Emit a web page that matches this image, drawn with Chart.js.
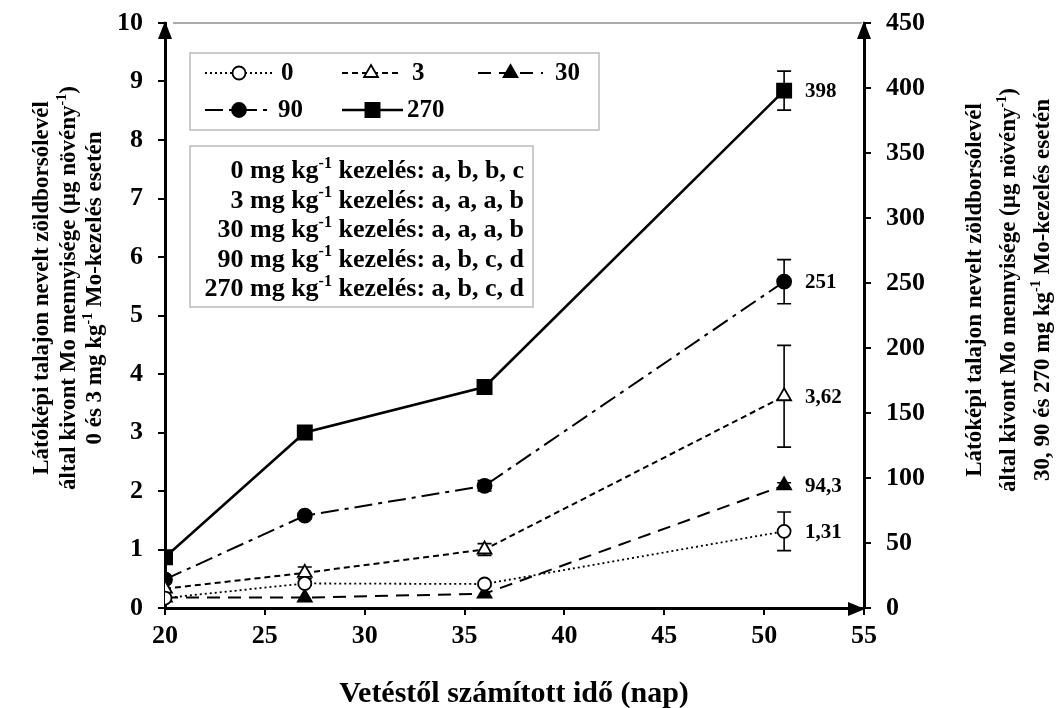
<!DOCTYPE html>
<html>
<head>
<meta charset="utf-8">
<script src="https://cdn.jsdelivr.net/npm/chart.js@4.4.1/dist/chart.umd.min.js"></script>
<style>
  html, body { margin: 0; padding: 0; background: #fff; }
  #wrap { width: 1059px; height: 708px; }
</style>
</head>
<body>
<div id="wrap"><canvas id="moChart" width="1059" height="708"></canvas></div>
<script>
// sampling days after sowing
const days = [20, 27, 36, 51];

// 0 and 3 mg/kg treatments -> left axis
const mo0 = [0.17, 0.42, 0.41, 1.31];
const mo3 = [0.33, 0.6, 1.0, 3.62];
// 30, 90 and 270 mg/kg treatments -> right axis
const mo30 = [8, 8, 11, 94.3];
const mo90 = [22, 71, 94, 251];
const mo270 = [39, 135, 170, 398];

// standard deviations
const err0 = [0, 0.03, 0.03, 0.33];
const err3 = [0, 0.1, 0.1, 0.87];
const err30 = [0, 0, 0, 2];
const err90 = [0, 0, 4, 17];
const err270 = [0, 0, 0, 15];

// value printed next to the last point of each series
const lastLabels = ['1,31', '3,62', '94,3', '251', '398'];

// significance letters per treatment
const treatments = ['0', '3', '30', '90', '270'];
const letters = ['a, b, b, c', 'a, a, a, b', 'a, a, a, b', 'a, b, c, d', 'a, b, c, d'];

const FONT = '"Liberation Serif", "Times New Roman", serif';

const styles = {
  '0':   { dash: [2, 3],        width: 1.8, point: 'circle',   r: 6.5, fill: '#fff' },
  '3':   { dash: [6, 4],        width: 2,   point: 'triangle', r: 8,   fill: '#fff' },
  '30':  { dash: [13, 8],       width: 2,   point: 'triangle', r: 8,   fill: '#000' },
  '90':  { dash: [18, 6, 4, 6], width: 2,   point: 'circle',   r: 7,   fill: '#000' },
  '270': { dash: [],            width: 2.5, point: 'rect',     r: 10,  fill: '#000' }
};

function series(name, values, errors, axis, label) {
  const s = styles[name];
  return {
    label: name,
    data: values.map((v, i) => ({ x: days[i], y: v })),
    errors: errors,
    lastLabel: label,
    yAxisID: axis,
    borderColor: '#000',
    borderWidth: s.width,
    borderDash: s.dash,
    tension: 0,
    pointStyle: s.point,
    pointRadius: s.r,
    pointHoverRadius: s.r,
    pointBackgroundColor: s.fill,
    pointBorderColor: '#000',
    pointBorderWidth: 1.8
  };
}

// draw text that may contain superscript parts: [[text, isSup], ...]
function richWidth(ctx, parts, size) {
  let w = 0;
  parts.forEach(p => {
    ctx.font = 'bold ' + (p[1] ? Math.round(size * 0.6) : size) + 'px ' + FONT;
    w += ctx.measureText(p[0]).width;
  });
  return w;
}
function drawRich(ctx, parts, x, y, align, size) {
  const w = richWidth(ctx, parts, size);
  let cx = align === 'center' ? x - w / 2 : align === 'right' ? x - w : x;
  ctx.textAlign = 'left';
  ctx.textBaseline = 'alphabetic';
  parts.forEach(p => {
    const sz = p[1] ? Math.round(size * 0.6) : size;
    ctx.font = 'bold ' + sz + 'px ' + FONT;
    ctx.fillText(p[0], cx, p[1] ? y - size * 0.4 : y);
    cx += ctx.measureText(p[0]).width;
  });
}

function marker(ctx, style, x, y) {
  const s = styles[style];
  ctx.save();
  ctx.setLineDash([]);
  ctx.lineWidth = 1.8;
  ctx.strokeStyle = '#000';
  ctx.fillStyle = s.fill;
  ctx.beginPath();
  if (s.point === 'circle') {
    ctx.arc(x, y, s.r, 0, Math.PI * 2);
  } else if (s.point === 'triangle') {
    const hw = s.r * Math.sqrt(3) / 2;
    ctx.moveTo(x, y - s.r);
    ctx.lineTo(x + hw, y + s.r / 2);
    ctx.lineTo(x - hw, y + s.r / 2);
    ctx.closePath();
  } else {
    const a = s.r * Math.SQRT1_2;
    ctx.rect(x - a, y - a, 2 * a, 2 * a);
  }
  ctx.fill();
  ctx.stroke();
  ctx.restore();
}

const errorBars = {
  id: 'errorBars',
  beforeDatasetsDraw(chart) {
    const ctx = chart.ctx;
    const xs = chart.scales.x;
    ctx.save();
    ctx.strokeStyle = '#000';
    ctx.lineWidth = 1.6;
    chart.data.datasets.forEach(ds => {
      const ys = chart.scales[ds.yAxisID];
      ds.data.forEach((p, i) => {
        const e = ds.errors[i];
        if (!e) return;
        const px = xs.getPixelForValue(p.x);
        const top = ys.getPixelForValue(p.y + e);
        const bot = ys.getPixelForValue(p.y - e);
        ctx.beginPath();
        ctx.moveTo(px, top); ctx.lineTo(px, bot);
        ctx.moveTo(px - 7, top); ctx.lineTo(px + 7, top);
        ctx.moveTo(px - 7, bot); ctx.lineTo(px + 7, bot);
        ctx.stroke();
      });
    });
    ctx.restore();
  },
  afterDatasetsDraw(chart) {
    const ctx = chart.ctx;
    const xs = chart.scales.x;
    ctx.save();
    ctx.fillStyle = '#000';
    ctx.font = 'bold 21px ' + FONT;
    ctx.textAlign = 'left';
    ctx.textBaseline = 'middle';
    chart.data.datasets.forEach(ds => {
      const last = ds.data[ds.data.length - 1];
      const ys = chart.scales[ds.yAxisID];
      ctx.fillText(ds.lastLabel, xs.getPixelForValue(last.x) + 21, ys.getPixelForValue(last.y) + 1);
    });
    ctx.restore();
  }
};

const decorations = {
  id: 'decorations',
  afterDraw(chart) {
    const ctx = chart.ctx;
    const a = chart.chartArea;
    ctx.save();

    // grey top frame line
    ctx.strokeStyle = '#aaa';
    ctx.lineWidth = 2;
    ctx.beginPath();
    ctx.moveTo(a.left + 8, a.top);
    ctx.lineTo(a.right - 2, a.top);
    ctx.stroke();

    // axis arrows
    ctx.fillStyle = '#000';
    [a.left, a.right].forEach(x => {
      ctx.beginPath();
      ctx.moveTo(x, a.top - 2);
      ctx.lineTo(x - 7, a.top + 16);
      ctx.lineTo(x + 7, a.top + 16);
      ctx.closePath();
      ctx.fill();
    });
    ctx.beginPath();
    ctx.moveTo(a.right + 1, a.bottom + 1);
    ctx.lineTo(a.right - 16, a.bottom - 6);
    ctx.lineTo(a.right - 16, a.bottom + 8);
    ctx.closePath();
    ctx.fill();

    // axis titles
    const leftTitle = [
      [['Látóképi talajon nevelt zöldborsólevél', false]],
      [['által kivont Mo mennyisége (µg növény', false], ['-1', true], [')', false]],
      [['0 és 3 mg kg', false], ['-1', true], [' Mo-kezelés esetén', false]]
    ];
    const rightTitle = [
      [['Látóképi talajon nevelt zöldborsólevél', false]],
      [['által kivont Mo mennyisége (µg növény', false], ['-1', true], [')', false]],
      [['30, 90 és 270 mg kg', false], ['-1', true], [' Mo-kezelés esetén', false]]
    ];
    const leftX = [48, 75, 101];
    const rightX = [981, 1015, 1049];
    leftTitle.forEach((line, i) => {
      ctx.save();
      ctx.translate(leftX[i], 288);
      ctx.rotate(-Math.PI / 2);
      drawRich(ctx, line, 0, 0, 'center', 23);
      ctx.restore();
    });
    rightTitle.forEach((line, i) => {
      ctx.save();
      ctx.translate(rightX[i], 290);
      ctx.rotate(-Math.PI / 2);
      drawRich(ctx, line, 0, 0, 'center', 23);
      ctx.restore();
    });
    drawRich(ctx, [['Vetéstől számított idő (nap)', false]], 514, 702, 'center', 30);

    // series legend box
    ctx.fillStyle = '#fff';
    ctx.strokeStyle = '#bbb';
    ctx.lineWidth = 1.5;
    ctx.fillRect(190, 53, 409, 77);
    ctx.strokeRect(190, 53, 409, 77);
    const entries = [
      { name: '0',   x1: 205, x2: 273, tx: 281, y: 73 },
      { name: '3',   x1: 342, x2: 400, tx: 412, y: 73 },
      { name: '30',  x1: 478, x2: 543, tx: 555, y: 73 },
      { name: '90',  x1: 205, x2: 273, tx: 278, y: 110 },
      { name: '270', x1: 342, x2: 403, tx: 407, y: 110 }
    ];
    entries.forEach(en => {
      const s = styles[en.name];
      ctx.save();
      ctx.strokeStyle = '#000';
      ctx.lineWidth = s.width;
      ctx.setLineDash(s.dash);
      ctx.beginPath();
      ctx.moveTo(en.x1, en.y);
      ctx.lineTo(en.x2, en.y);
      ctx.stroke();
      ctx.restore();
      marker(ctx, en.name, (en.x1 + en.x2) / 2, en.y);
      ctx.fillStyle = '#000';
      ctx.font = 'bold 25px ' + FONT;
      ctx.textAlign = 'left';
      ctx.textBaseline = 'middle';
      ctx.fillText(en.name, en.tx, en.y + 1);
    });

    // significance letters box
    ctx.fillStyle = '#fff';
    ctx.strokeStyle = '#bbb';
    ctx.lineWidth = 1.5;
    ctx.fillRect(190, 146, 343, 161);
    ctx.strokeRect(190, 146, 343, 161);
    ctx.fillStyle = '#000';
    treatments.forEach((t, i) => {
      drawRich(ctx, [[t + ' mg kg', false], ['-1', true], [' kezelés: ' + letters[i], false]],
        524, 178 + i * 29.6, 'right', 26);
    });

    ctx.restore();
  }
};

const tickFont = { family: FONT, weight: 'bold', size: 26 };

new Chart(document.getElementById('moChart'), {
  type: 'line',
  data: {
    datasets: [
      series('0', mo0, err0, 'yL', lastLabels[0]),
      series('3', mo3, err3, 'yL', lastLabels[1]),
      series('30', mo30, err30, 'yR', lastLabels[2]),
      series('90', mo90, err90, 'yR', lastLabels[3]),
      series('270', mo270, err270, 'yR', lastLabels[4])
    ]
  },
  options: {
    responsive: false,
    animation: false,
    events: [],
    layout: { padding: { top: 23, left: 0, right: 0, bottom: 0 } },
    plugins: { legend: { display: false }, tooltip: { enabled: false } },
    scales: {
      x: {
        type: 'linear',
        min: 20, max: 55,
        ticks: { stepSize: 5, color: '#000', font: tickFont, padding: 6, maxRotation: 0 },
        grid: { drawOnChartArea: false, color: '#000', lineWidth: 2, tickLength: 7 },
        border: { color: '#000', width: 3 },
        afterFit(s) { s.height = 100; s.paddingLeft = 0; s.paddingRight = 0; }
      },
      yL: {
        type: 'linear',
        position: 'left',
        min: 0, max: 10,
        ticks: { stepSize: 1, color: '#000', font: tickFont, padding: 15 },
        grid: { drawOnChartArea: false, color: '#000', lineWidth: 2, tickLength: 7 },
        border: { color: '#000', width: 3 },
        afterFit(s) { s.width = 165; s.paddingTop = 0; s.paddingBottom = 0; }
      },
      yR: {
        type: 'linear',
        position: 'right',
        min: 0, max: 450,
        ticks: { stepSize: 50, color: '#000', font: tickFont, padding: 15 },
        grid: { drawOnChartArea: false, color: '#000', lineWidth: 2, tickLength: 7 },
        border: { color: '#000', width: 3 },
        afterFit(s) { s.width = 195; s.paddingTop = 0; s.paddingBottom = 0; }
      }
    }
  },
  plugins: [errorBars, decorations]
});
</script>
</body>
</html>
